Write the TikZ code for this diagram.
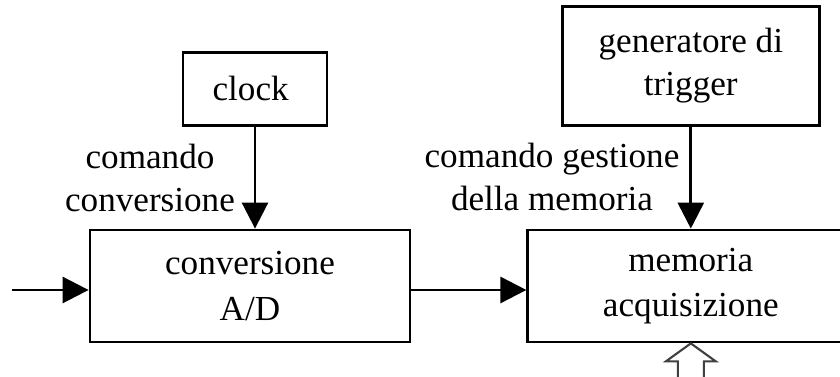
\documentclass[tikz,border=0pt]{standalone}
\usepackage{fontspec}
\setmainfont{Liberation Serif}
\usetikzlibrary{positioning,arrows.meta}
\newcommand{\blockfont}{\fontsize{20}{24}\selectfont}
\tikzstyle{block}=[rectangle, draw=black, line width=1.6pt, align=center,
        inner sep=0pt, font=\blockfont]
\tikzstyle{label}=[align=center, inner sep=0pt, font=\blockfont]
\tikzstyle{signal}=[draw=black, line width=1.6pt, -{Triangle[length=0.52cm, width=0.52cm]}]
\tikzstyle{bus}=[draw=black!75, line width=1.2pt, fill=white]

\begin{document}
\begin{tikzpicture}
        \clip (0,0) rectangle (16.8,7.54);
        \node (conv) [block, minimum width=6.4cm, minimum height=2.24cm] at (5.0,1.82)
        {
          conversione\\[2pt]A/D
        };
        \node (mem) [block, minimum width=6.52cm, minimum height=2.24cm, right=2.3cm of conv]
        {
          memoria\\[2pt]acquisizione
        };
        \node (clock) [block, minimum width=2.88cm, minimum height=1.46cm, above=2.04cm of conv, xshift=0.1cm]
        {
          clock
        };
        \node (trigger) [block, minimum width=5.14cm, minimum height=2.38cm, above=2.04cm of mem]
        {
          generatore di\\trigger
        };
        \node (cmdconv) [label] at (3.0,3.98) {comando\\conversione};
        \node (cmdmem) [label] at (11.04,4.0) {comando gestione\\della memoria};
        \coordinate (in) at (0.24,1.74);
        % segnali
        \draw[signal] (in) -- (conv.west |- in);
        \draw[signal] (conv.east |- in) -- (mem.west |- in);
        \draw[signal] (clock.south) -- (clock.south |- conv.north);
        \draw[signal] (trigger.south) -- (trigger.south |- mem.north);
        % bus verso la memoria
        \draw[bus] (mem.south) -- ++(-0.5,-0.36) -- ++(0.24,0) -- ++(0,-0.6)
          -- ++(0.52,0) -- ++(0,0.6) -- ++(0.24,0) -- cycle;
\end{tikzpicture}
\end{document}
